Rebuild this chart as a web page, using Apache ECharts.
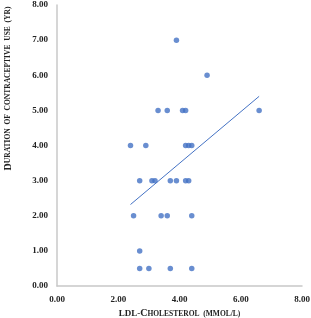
<!DOCTYPE html>
<html>
<head>
<meta charset="utf-8">
<script src="https://cdn.jsdelivr.net/npm/echarts@6/dist/echarts.min.js"></script>
<style>
  html, body { margin: 0; padding: 0; background: #fff; }
  #chart { width: 311px; height: 318px; }
</style>
</head>
<body>
<div id="chart"></div>
<script>
// LDL-cholesterol (mmol/L) vs duration of contraceptive use (yr)
const ldl = [3.9, 4.9, 3.3, 3.6, 4.1, 4.2, 6.6, 2.4, 2.9, 4.2, 4.3, 4.4, 2.7, 3.1, 3.2, 3.7, 3.9, 4.2, 4.3, 2.5, 3.4, 3.6, 4.4, 2.7, 2.7, 3.0, 3.7, 4.4]
const duration = [7, 6, 5, 5, 5, 5, 5, 4, 4, 4, 4, 4, 3, 3, 3, 3, 3, 3, 3, 2, 2, 2, 2, 1, 0.5, 0.5, 0.5, 0.5]
// trend line ends
const trendX = [2.4, 6.6]
const trendY = [2.32, 5.4]

const points = ldl.map((x, i) => [x, duration[i]])
const trend = trendX.map((x, i) => [x, trendY[i]])

const serif = '"Liberation Serif", "DejaVu Serif", serif'
const tickLabel = {
  fontFamily: serif,
  fontWeight: 'bold',
  fontSize: 9,
  color: '#222',
  formatter: v => v.toFixed(2)
}
const capsRich = {
  m: { fontFamily: serif, fontWeight: 'bold', fontSize: 9, color: '#222' },
  b: { fontFamily: serif, fontWeight: 'bold', fontSize: 10, color: '#222' },
  s: { fontFamily: serif, fontWeight: 'bold', fontSize: 7.5, color: '#222' }
}

const chart = echarts.init(document.getElementById('chart'))
chart.setOption({
  animation: false,
  grid: { left: 57, right: 9, top: 5, bottom: 32, outerBoundsMode: 'none', containLabel: false },
  xAxis: {
    type: 'value',
    min: 0,
    max: 8,
    interval: 2,
    splitLine: { show: false },
    axisTick: { show: false },
    axisLine: { show: true, lineStyle: { color: '#c8c8c8', width: 1.5 } },
    axisLabel: Object.assign({ margin: 9 }, tickLabel),
    name: '{m|LDL-}{b|C}{s|HOLESTEROL  (MMOL/L)}',
    nameLocation: 'middle',
    nameGap: 21,
    nameTextStyle: { rich: capsRich }
  },
  yAxis: {
    type: 'value',
    min: 0,
    max: 8,
    interval: 1,
    splitLine: { show: false },
    axisTick: { show: false },
    axisLine: { show: true, lineStyle: { color: '#c8c8c8', width: 1.5 } },
    axisLabel: Object.assign({ margin: 9 }, tickLabel),
    name: '{b|D}{s|URATION  OF  CONTRACEPTIVE  USE  (YR)}',
    nameLocation: 'middle',
    nameGap: 44,
    nameTextStyle: { rich: capsRich, padding: [0, 0, 0, 114] }
  },
  series: [
    {
      type: 'scatter',
      data: points,
      symbolSize: 5.5,
      itemStyle: { color: '#4472C4' }
    },
    {
      type: 'line',
      data: trend,
      showSymbol: false,
      lineStyle: { color: '#4472C4', width: 1 }
    }
  ]
})
</script>
</body>
</html>
